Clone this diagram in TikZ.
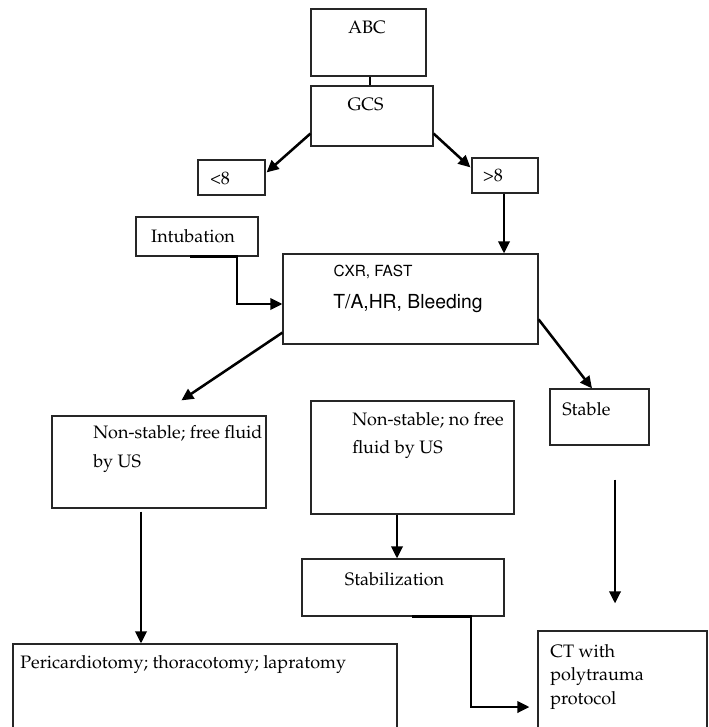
\documentclass[tikz,border=0pt]{standalone}
\usepackage[T1]{fontenc}
\usepackage{mathpazo}
\usepackage{helvet}
\usetikzlibrary{arrows.meta,calc,fit}
\begin{document}
\begin{tikzpicture}[x=0.75pt,y=-0.75pt,
  box/.style={draw=black!85, line width=0.9pt, inner sep=0pt},
  txt/.style={inner sep=0pt, font=\fontsize{13.5}{16}\selectfont},
  sansbig/.style={inner sep=0pt, font=\sffamily\fontsize{14.5}{17}\selectfont},
  sanssmall/.style={inner sep=0pt, font=\sffamily\fontsize{11.5}{14}\selectfont},
  arr/.style={line width=1.9pt, -{Triangle[length=9pt,width=8.5pt]}},
  link/.style={line width=1.9pt}]
\clip (0,0) rectangle (709,727);
\fill[white] (0,0) rectangle (709,727);
% boxes
\node[box, fit={(311,9) (426,76)}] (abc) {};
\node[box, fit={(311,86) (433,146)}] (gcs) {};
\node[box, fit={(198,160) (265,195)}] (lt8) {};
\node[box, fit={(472,158) (538,193)}] (gt8) {};
\node[box, fit={(136,217) (258,256)}] (intub) {};
\node[box, fit={(283,254) (538,344)}] (cxr) {};
\node[box, fit={(52,416) (266,508)}] (nsff) {};
\node[box, fit={(311,401) (514,514)}] (nsnf) {};
\node[box, fit={(550,389) (649,445)}] (stable) {};
\node[box, fit={(302,559) (504,616)}] (stab) {};
\node[box, fit={(13,644) (397,760)}] (peri) {};
\node[box, fit={(538,631) (707,760)}] (ct) {};
% texts
\node[txt, anchor=base] (tabc) at (367,34) {ABC};
\node[txt, anchor=base] (tgcs) at (365.5,111) {GCS};
\node[txt, anchor=base] (tlt) at (220,185) {\textless 8};
\node[txt, anchor=base] (tgt) at (493,182) {\textgreater 8};
\node[txt, anchor=base] (tint) at (193,242) {Intubation};
\node[sanssmall, anchor=base] (tcxr) at (373,276) {CXR, FAST};
\node[sansbig, anchor=base] (tta) at (408,308) {T/A,HR, Bleeding};
\node[txt, font=\fontsize{13.5}{21.75}\selectfont, anchor=base west, align=left] (tnsff) at (93,467) {Non-stable; free fluid\\by US};
\node[txt, font=\fontsize{13.5}{21}\selectfont, anchor=base west, align=left] (tnsnf) at (352,453) {Non-stable; no free\\fluid by US};
\node[txt, anchor=base west] (tstable) at (562,415) {Stable};
\node[txt, anchor=base] (tstab) at (394.5,585) {Stabilization};
\node[txt, anchor=base west] (tperi) at (20,668) {Pericardiotomy; thoracotomy; lapratomy};
\node[txt, font=\fontsize{13.5}{17.6}\selectfont, anchor=base west, align=left] (tct) at (550,704) {CT with\\polytrauma\\protocol};
% connectors
\draw[link] (abc.south -| 370,0) -- (gcs.north -| 370,0);
\draw[arr] ($(gcs.south west)+(0,-13)$) -- ($(lt8.north east)+(1,13)$);
\draw[arr] ($(gcs.south east)+(0,-13)$) -- ($(gt8.north west)+(-1,10)$);
\draw[arr] (gt8.south -| 504,0) -- (cxr.north -| 504,0);
\draw[arr] (intub.south -| 190,0) -- (intub.south -| 237,0) |- (cxr.west |- 0,304);
\draw[arr] ($(cxr.south west)+(0,-12)$) -- ($(nsff.north west)+(130,-15)$);
\draw[arr] ($(cxr.north east)+(0,66)$) -- (stable.north -| 592,0);
\draw[arr] ($(nsff.south -| 141,0)+(0,3)$) -- (peri.north -| 141,0);
\draw[arr] (nsnf.south -| 397,0) -- (stab.north -| 397,0);
\draw[arr] (stab.south -| 412,0) -- (stab.south -| 471,0) |- ($(ct.west |- 0,707)+(-8,0)$);
\draw[arr] ($(stable.south -| 615,0)+(0,34)$) -- ($(ct.north -| 615,0)+(0,-27)$);
\end{tikzpicture}
\end{document}
